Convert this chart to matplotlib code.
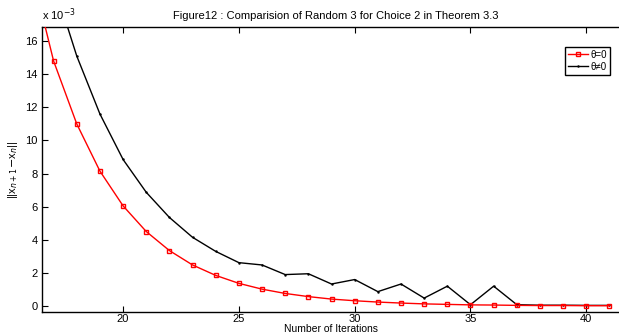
import matplotlib
matplotlib.use("Agg")
import matplotlib.pyplot as plt
import numpy as np

plt.rcParams['font.family'] = ['Liberation Sans', 'DejaVu Sans']

# values in units of 1e-3
iterations = list(range(16, 42))
theta_zero = [20.5, 14.8, 11.0, 8.15, 6.05, 4.5, 3.35, 2.48, 1.85, 1.37, 1.02, 0.76,
              0.57, 0.42, 0.32, 0.24, 0.18, 0.13, 0.10, 0.07, 0.06, 0.04, 0.03, 0.03,
              0.02, 0.02]
theta_nonzero = [25.0, 19.5, 15.1, 11.6, 8.85, 6.87, 5.35, 4.15, 3.3, 2.62, 2.48, 1.9,
                 1.95, 1.33, 1.6, 0.87, 1.33, 0.48, 1.2, 0.08, 1.2, 0.08, 0.05, 0.05,
                 0.04, 0.04]
yticks = [0, 2, 4, 6, 8, 10, 12, 14, 16]
xticks = [20, 25, 30, 35, 40]

fig = plt.figure(figsize=(6.19, 3.34), dpi=100)
ax = fig.add_axes([42/619, 1-312/334, (628-42)/619, (312-27)/334])

ax.plot(iterations, theta_nonzero, color='black', lw=1.0, marker='.', markersize=1.5,
        label='θ≠0', zorder=2)
ax.plot(iterations, theta_zero, color='red', lw=1.0, marker='s', markersize=3.5,
        mfc='none', mec='red', mew=1.0, label='θ=0', zorder=3)

ax.set_xlim(16.5, 41.8)
ax.set_ylim(-0.36, 16.85)
ax.set_xticks(xticks)
ax.set_yticks(yticks)
ax.tick_params(direction='in', top=True, right=True, labelsize=8, length=4, width=0.8,
               pad=3)
ax.tick_params(axis='x', pad=1.5)
for s in ax.spines.values():
    s.set_linewidth(1.0)

fig.text(331/619, 1-334/334 + 0.5/334, 'Number of Iterations', fontsize=7.5,
         ha='center', va='bottom')
ax.set_ylabel(r'||x$_{n+1}$$-$x$_n$||', fontsize=8, labelpad=4)
fig.text(42/619, 1-20/334, r'x 10$^{-3}$', fontsize=8, ha='left', va='baseline')
fig.text(336/619, 1-19/334, 'Figure12 : Comparision of Random 3 for Choice 2 in Theorem 3.3',
         fontsize=8, ha='center', va='baseline')

h, l = ax.get_legend_handles_labels()
leg = ax.legend(h[::-1], l[::-1], loc='upper right', bbox_to_anchor=(615/619, 1-42/334),
                bbox_transform=fig.transFigure, fontsize=7, handlelength=2.0,
                handletextpad=0.3, borderpad=0.3, labelspacing=0.2, fancybox=False,
                framealpha=1)
leg.get_frame().set_edgecolor('black')
leg.get_frame().set_linewidth(1.0)

fig.savefig('out.png', dpi=100)
